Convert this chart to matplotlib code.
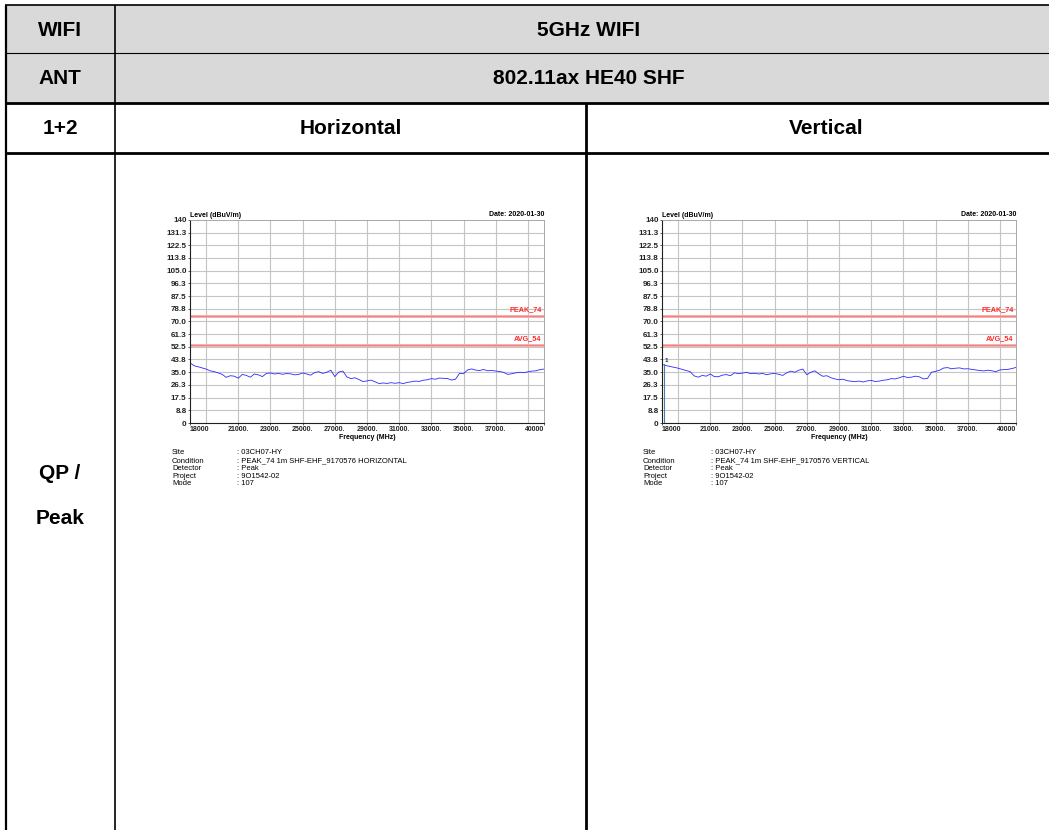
import numpy as np
import matplotlib
matplotlib.use("Agg")
import matplotlib.pyplot as plt
from matplotlib.patches import Rectangle

plt.rcParams['font.family'] = ['Liberation Sans', 'DejaVu Sans']

# ---- table text ----
row_heads = ["WIFI", "ANT", "1+2"]
band_text = "5GHz WIFI"
mode_text = "802.11ax HE40 SHF"
pol_names = ["Horizontal", "Vertical"]
detector_head = ["QP /", "Peak"]

# ---- plot data (level in dBuV/m, 250 MHz steps from 18 to 40 GHz) ----
f_start, f_stop = 18000, 40000
level_h = [41.5, 39.5, 38.8, 38.0, 37.2, 36.0, 35.4, 34.6, 33.5, 31.5,
           32.6, 32.3, 30.9, 33.5, 32.8, 31.6, 33.8, 33.2, 32.0, 34.2,
           34.5, 33.8, 34.2, 33.6, 34.1, 33.9, 33.2, 33.5, 34.5, 33.8,
           33.0, 34.8, 35.4, 34.2, 35.0, 36.4, 32.0, 35.2, 35.8, 31.8,
           30.6, 31.2, 30.0, 28.6, 29.0, 29.6, 28.4, 27.2, 27.6, 27.3,
           27.8, 27.4, 27.8, 27.2, 28.0, 28.4, 28.9, 28.7, 29.5, 29.8,
           30.6, 30.2, 31.0, 30.8, 30.7, 29.6, 30.2, 34.2, 34.0, 36.6,
           37.3, 36.5, 36.2, 36.9, 36.0, 36.3, 35.8, 35.5, 34.9, 33.5,
           34.0, 34.6, 35.0, 34.7, 35.3, 35.8, 36.0, 36.8, 37.2]
level_v = [40.4, 39.6, 39.0, 38.4, 37.8, 37.0, 36.2, 35.4, 32.5, 31.6,
           32.8, 32.3, 33.8, 32.0, 31.9, 33.0, 33.4, 32.6, 34.6, 34.0,
           34.4, 35.0, 34.0, 34.3, 33.8, 34.2, 33.3, 33.9, 34.2, 33.6,
           32.8, 34.6, 35.8, 35.0, 36.4, 37.2, 33.3, 35.0, 36.0, 33.8,
           32.2, 32.6, 31.2, 30.4, 29.8, 30.2, 29.2, 28.8, 28.6, 28.9,
           28.3, 29.0, 29.4, 28.6, 28.9, 29.5, 29.8, 30.6, 30.4, 31.2,
           32.2, 31.4, 31.6, 32.3, 31.8, 30.4, 30.8, 35.0, 35.6, 36.4,
           37.9, 38.2, 37.4, 37.8, 38.0, 37.3, 37.4, 37.0, 36.6, 36.2,
           35.9, 36.4, 36.0, 35.4, 36.6, 36.8, 37.0, 37.6, 38.3]
marker_freq_v = 18100
marker_level_v = 40.4

y_ticks = [0, 8.8, 17.5, 26.3, 35.0, 43.8, 52.5, 61.3, 70.0, 78.8, 87.5,
           96.3, 105.0, 113.8, 122.5, 131.3, 140]
y_labels = ["0", "8.8", "17.5", "26.3", "35.0", "43.8", "52.5", "61.3",
            "70.0", "78.8", "87.5", "96.3", "105.0", "113.8", "122.5",
            "131.3", "140"]
x_ticks = [18000, 21000, 23000, 25000, 27000, 29000, 31000, 33000, 35000,
           37000, 40000]
x_labels = ["18000", "21000.", "23000.", "25000.", "27000.", "29000.",
            "31000.", "33000.", "35000.", "37000.", "40000"]
x_grid = [19000, 21000, 23000, 25000, 27000, 29000, 31000, 33000, 35000,
          37000, 39000]
limits = [("PEAK_74", 74), ("AVG_54", 54)]

info_keys = ["Site", "Condition", "Detector", "Project", "Mode"]
info_h = [": 03CH07-HY", ": PEAK_74 1m SHF-EHF_9170576 HORIZONTAL",
          ": Peak", ": 9O1542-02", ": 107"]
info_v = [": 03CH07-HY", ": PEAK_74 1m SHF-EHF_9170576 VERTICAL",
          ": Peak", ": 9O1542-02", ": 107"]

W, H = 1049, 830
fig = plt.figure(figsize=(W / 100, H / 100), dpi=100)

# background axes in pixel coordinates for the table
bg = fig.add_axes([0, 0, 1, 1])
bg.set_xlim(0, W)
bg.set_ylim(H, 0)
bg.axis('off')

bg.add_patch(Rectangle((6, 5), W - 6, 98, color='#d9d9d9', zorder=0))


def hline(y, x0, x1, lw):
    bg.plot([x0, x1], [y, y], color='black', lw=lw, solid_capstyle='butt')


def vline(x, y0, y1, lw):
    bg.plot([x, x], [y0, y1], color='black', lw=lw, solid_capstyle='butt')


hline(5, 5, W, 1.2)
hline(53, 6, W, 0.8)
hline(103, 6, W, 2.0)
hline(153, 6, W, 2.0)
vline(6, 5, H, 1.6)
vline(115, 5, H, 1.2)
vline(586, 103, H, 2.0)

txt = dict(fontsize=15, fontweight='bold', ha='center', va='center')
bg.text(60, 30, row_heads[0], **txt)
bg.text(60, 79, row_heads[1], **txt)
bg.text(60, 129, row_heads[2], **txt)
bg.text(589, 30, band_text, **txt)
bg.text(589, 79, mode_text, **txt)
bg.text(351, 129, pol_names[0], **txt)
bg.text(826, 129, pol_names[1], **txt)
bg.text(60, 473, detector_head[0], **txt)
bg.text(60, 518, detector_head[1], **txt)


def draw_plot(left_px, level, info, key_x, val_x, marker=False):
    top_px, bot_px, w_px = 220, 423, 354
    ax = fig.add_axes([left_px / W, 1 - bot_px / H, w_px / W,
                       (bot_px - top_px) / H])
    freq = np.linspace(f_start, f_stop, len(level))
    ax.set_xlim(f_start, f_stop)
    ax.set_ylim(0, 140)
    for g in x_grid:
        ax.axvline(g, color='#c4c4c4', lw=0.8, zorder=0)
    for t in y_ticks[1:-1]:
        ax.axhline(t, color='#c4c4c4', lw=0.8, zorder=0)
    for name, val in limits:
        ax.axhline(val, color='#f7a8a8', lw=2.0, zorder=1)
        ax.axhline(val, color='#f06060', lw=0.4, zorder=1)
        ax.text(f_stop - 150, val + 1.5, name, color='#ff2a2a',
                fontsize=5.2, fontweight='bold', ha='right', va='bottom')
    ax.plot(freq, level, color='#2a2aff', lw=0.6, zorder=2)
    if marker:
        ax.plot([marker_freq_v, marker_freq_v], [0, marker_level_v],
                color='#4a7ab0', lw=0.8, zorder=3)
        ax.text(marker_freq_v + 60, marker_level_v + 1, "1", fontsize=4.5,
                fontweight='bold', color='#203060', va='bottom')
    ax.set_yticks(y_ticks)
    ax.set_yticklabels(y_labels)
    ax.set_xticks(x_ticks)
    ax.set_xticklabels(x_labels)
    lbls = ax.get_xticklabels()
    lbls[0].set_ha('left')
    lbls[-1].set_ha('right')
    ax.tick_params(axis='both', length=1.5, width=0.5, pad=1,
                   colors='#222222')
    ax.tick_params(axis='y', labelsize=5.8)
    ax.tick_params(axis='x', labelsize=5.0)
    for lab in ax.get_xticklabels() + ax.get_yticklabels():
        lab.set_fontweight('bold')
    for s in ['top', 'right']:
        ax.spines[s].set_color('#9a9a9a')
        ax.spines[s].set_linewidth(0.6)
    for s in ['left', 'bottom']:
        ax.spines[s].set_color('#202020')
        ax.spines[s].set_linewidth(0.8)
    ax.text(0.0, 1.005, "Level (dBuV/m)", transform=ax.transAxes,
            fontsize=5, fontweight='bold', ha='left', va='bottom')
    ax.text(1.0, 1.01, "Date: 2020-01-30", transform=ax.transAxes,
            fontsize=5, fontweight='bold', ha='right', va='bottom')
    ax.set_xlabel("Frequency (MHz)", fontsize=5, fontweight='bold',
                  labelpad=0.5)
    ys = [452.7, 461, 468.5, 476, 483.7]
    for k, v, y in zip(info_keys, info, ys):
        bg.text(key_x, y, k, fontsize=5.5, ha='left', va='center')
        bg.text(val_x, y, v, fontsize=5.5, ha='left', va='center')
    return ax


draw_plot(190, level_h, info_h, 172, 237)
draw_plot(662, level_v, info_v, 643, 711, marker=True)

fig.savefig("out.png", dpi=100)
